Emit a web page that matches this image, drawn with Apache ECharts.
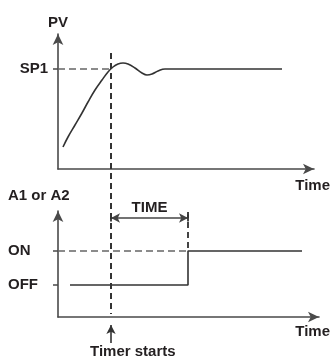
<!DOCTYPE html>
<html><head><meta charset="utf-8">
<script src="https://cdn.jsdelivr.net/npm/echarts@6/dist/echarts.min.js"></script>
<style>html,body{margin:0;padding:0;background:#fff}#c{width:331px;height:360px}</style>
</head><body><div id="c"></div>
<script>
// ---- data (time in arbitrary units) ----
const pvTime  = [5, 10, 17, 24, 30, 37, 44, 50, 55, 60, 65, 70, 77, 84, 89, 94, 100, 107, 115, 224];
const pvValue = [22, 32, 44, 56, 67, 79, 89, 97, 102, 105, 106, 105, 101, 96, 94, 95, 98, 100, 100, 100];
const sp1 = 100;
const timerStart = 53;
const timerEnd = 130;
const alarmTime  = [12, 130, 130, 244];
const offLevel = 32, onLevel = 66;
const alarmLevel = [offLevel, offLevel, onLevel, onLevel];
const pvTicks = [sp1], pvTickNames = ['SP1'];
const alarmTicks = [offLevel, onLevel], alarmTickNames = ['OFF', 'ON'];

const FONT = '"Liberation Sans", Arial, sans-serif';
const TXT = '#231f20';
const AX = '#4a4a4a';
const txt = {fontFamily: FONT, fontWeight: 'bold', fontSize: 15, color: TXT};
const dashed = {type: [7, 4], color: '#666', width: 1.5};

function axisLine(){ return {show:true, onZero:true, symbol:['none','arrow'], symbolSize:[8,11], lineStyle:{color:AX, width:1.6}}; }

const chart = echarts.init(document.getElementById('c'), null, {renderer:'canvas'});
chart.setOption({
  animation: false,
  backgroundColor: '#fff',
  grid: [
    {left: 58, right: 17, top: 34, height: 135},
    {left: 58, right: 12, top: 211, height: 106},
    {left: 58, right: 17, top: 30, height: 315}
  ],
  xAxis: [
    {gridIndex:0, type:'value', min:0, max:256, axisLine:axisLine(), axisTick:{show:false}, axisLabel:{show:false}, splitLine:{show:false},
     name:'Time', nameLocation:'end', nameGap:16, nameTextStyle:Object.assign({}, txt, {align:'right', verticalAlign:'top', padding:[9,0,0,0]})},
    {gridIndex:1, type:'value', min:0, max:261, axisLine:axisLine(), axisTick:{show:false}, axisLabel:{show:false}, splitLine:{show:false},
     name:'Time', nameLocation:'end', nameGap:11, nameTextStyle:Object.assign({}, txt, {align:'right', verticalAlign:'top', padding:[7,0,0,0]})},
    {gridIndex:2, type:'value', min:0, max:256, show:false}
  ],
  yAxis: [
    {gridIndex:0, type:'value', min:0, max:135, axisLine:axisLine(), splitLine:{show:false},
     axisTick:{show:true, length:5, customValues:pvTicks, lineStyle:{color:AX, width:1.5}},
     axisLabel:Object.assign({}, txt, {customValues:pvTicks, margin:10, formatter:v=>pvTickNames[pvTicks.indexOf(v)]}),
     name:'PV', nameLocation:'end', nameGap:4, nameTextStyle:txt},
    {gridIndex:1, type:'value', min:0, max:106, axisLine:axisLine(), splitLine:{show:false},
     axisTick:{show:true, length:5, customValues:alarmTicks, lineStyle:{color:AX, width:1.5}},
     axisLabel:Object.assign({}, txt, {customValues:alarmTicks, margin:50, align:'left', formatter:v=>alarmTickNames[alarmTicks.indexOf(v)]})},
    {gridIndex:2, type:'value', min:0, max:315, show:false}
  ],
  graphic: [
    {type:'text', left:8, top:188, style:{text:'A1 or A2', font:'bold 15px '+FONT, fill:TXT}},
    {type:'text', left:90, top:344, style:{text:'Timer starts', font:'bold 15px '+FONT, fill:TXT}}
  ],
  series: [
    {type:'line', xAxisIndex:0, yAxisIndex:0, smooth:0.4, showSymbol:false, silent:true,
     data: pvTime.map((t,i)=>[t, pvValue[i]]),
     lineStyle:{color:'#333', width:1.6},
     markLine:{silent:true, symbol:'none', label:{show:false}, lineStyle:dashed, animation:false,
       data:[[{coord:[0, sp1]}, {coord:[timerStart, sp1]}]]}},
    {type:'line', xAxisIndex:1, yAxisIndex:1, showSymbol:false, silent:true,
     data: alarmTime.map((t,i)=>[t, alarmLevel[i]]),
     lineStyle:{color:'#333', width:1.6},
     markLine:{silent:true, symbol:'none', label:{show:false}, lineStyle:dashed, animation:false,
       data:[
         [{coord:[0, onLevel]}, {coord:[timerEnd, onLevel]}],
         [{coord:[timerEnd, 105], lineStyle:{type:[6,4], color:'#444', width:2}}, {coord:[timerEnd, onLevel]}],
         [{coord:[timerStart, 99], symbol:'arrow', symbolSize:[7,9], lineStyle:{type:'solid', color:'#444', width:1.6},
           label:{show:true, position:'middle', formatter:'TIME', distance:3, fontFamily:FONT, fontWeight:'bold', fontSize:15, color:TXT}},
          {coord:[timerEnd, 99], symbol:'arrow', symbolSize:[7,9]}],
         [{coord:[timerStart, 102.5], lineStyle:{type:'solid', color:'#333', width:1.8}}, {coord:[timerStart, 95.5]}],
         [{coord:[timerEnd, 102.5], lineStyle:{type:'solid', color:'#333', width:1.8}}, {coord:[timerEnd, 95.5]}]
       ]}},
    {type:'line', xAxisIndex:2, yAxisIndex:2, data:[], silent:true,
     markLine:{silent:true, symbol:'none', label:{show:false}, animation:false,
       lineStyle:{type:[6,4], color:'#333', width:2},
       data:[
         [{coord:[timerStart, 292]}, {coord:[timerStart, 31]}],
         [{coord:[timerStart, 2], lineStyle:{type:'solid', color:'#333', width:1.6}}, {coord:[timerStart, 20], symbol:'arrow', symbolSize:[7,9]}]
       ]}}
  ]
});
</script></body></html>
